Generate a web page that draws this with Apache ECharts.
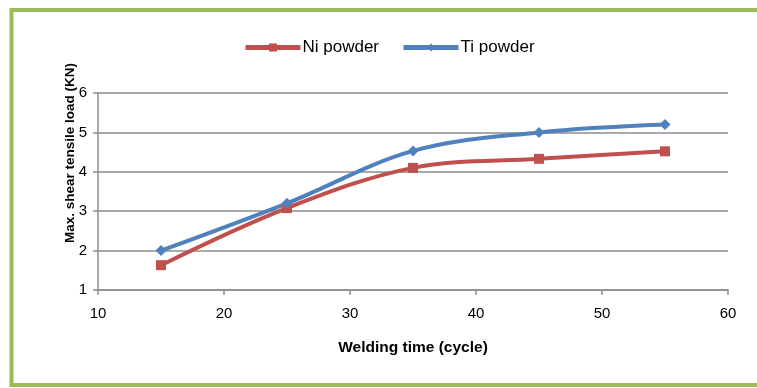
<!DOCTYPE html>
<html>
<head>
<meta charset="utf-8">
<script src="https://cdn.jsdelivr.net/npm/echarts@6/dist/echarts.min.js"></script>
<style>
html,body{margin:0;padding:0;background:#fff;}
#chart{width:757px;height:388px;}
</style>
</head>
<body>
<div id="chart"></div>
<script>
const weldingTime = [15, 25, 35, 45, 55];
const niPowder = [1.63, 3.08, 4.1, 4.33, 4.52];
const tiPowder = [2.0, 3.2, 4.53, 5.0, 5.2];
const seriesNames = ['Ni powder', 'Ti powder'];
const xAxisTitle = 'Welding time (cycle)';
const yAxisTitle = 'Max. shear tensile load (KN)';

const chart = echarts.init(document.getElementById('chart'), null, {renderer: 'canvas'});
const font = '"Liberation Sans", Arial, sans-serif';
const gridColor = '#8c8c8c';

chart.setOption({
  animation: false,
  backgroundColor: '#fff',
  textStyle: {fontFamily: font},
  graphic: [
    {type: 'rect', shape: {x: 11.5, y: 10, width: 800, height: 375},
     style: {fill: 'none', stroke: '#9BBB59', lineWidth: 4}, z: 100},
    {type: 'text', x: 70, y: 153, rotation: Math.PI / 2,
     style: {text: yAxisTitle, fontFamily: font, fontSize: 13.5, fontWeight: 'bold', fill: '#000',
             textAlign: 'center', textVerticalAlign: 'middle'}}
  ],
  legend: {
    left: 243, top: 39, padding: 0,
    itemWidth: 55, itemHeight: 10, itemGap: 22,
    lineStyle: {width: 5},
    textStyle: {fontSize: 17, color: '#000', fontFamily: font, padding: [0, 0, 0, -3]},
    data: seriesNames
  },
  grid: {left: 98, right: 29, top: 93, bottom: 98},
  xAxis: {
    type: 'value', min: 10, max: 60, interval: 10,
    name: xAxisTitle, nameLocation: 'middle', nameGap: 50,
    nameTextStyle: {fontSize: 15.5, fontWeight: 'bold', color: '#000', fontFamily: font},
    axisLine: {show: true, lineStyle: {color: gridColor, width: 1.5}},
    axisTick: {show: true, length: 5, lineStyle: {color: gridColor, width: 1.5}},
    axisLabel: {fontSize: 15, color: '#000', margin: 16, fontFamily: font},
    splitLine: {show: false}
  },
  yAxis: {
    type: 'value', min: 1, max: 6, interval: 1,
    axisLine: {show: true, lineStyle: {color: gridColor, width: 1.5}},
    axisTick: {show: true, length: 5, lineStyle: {color: gridColor, width: 1.5}},
    axisLabel: {fontSize: 15, color: '#000', margin: 11, fontFamily: font},
    splitLine: {show: true, lineStyle: {color: gridColor, width: 1.5}}
  },
  series: [
    {
      name: seriesNames[0], type: 'line', smooth: 0.35,
      data: weldingTime.map((t, i) => [t, niPowder[i]]),
      symbol: 'rect', symbolSize: 10,
      lineStyle: {color: '#C0504D', width: 4},
      itemStyle: {color: '#C0504D'}
    },
    {
      name: seriesNames[1], type: 'line', smooth: 0.35,
      data: weldingTime.map((t, i) => [t, tiPowder[i]]),
      symbol: 'diamond', symbolSize: 11,
      lineStyle: {color: '#4F81BD', width: 4},
      itemStyle: {color: '#4F81BD'}
    }
  ]
});
</script>
</body>
</html>
